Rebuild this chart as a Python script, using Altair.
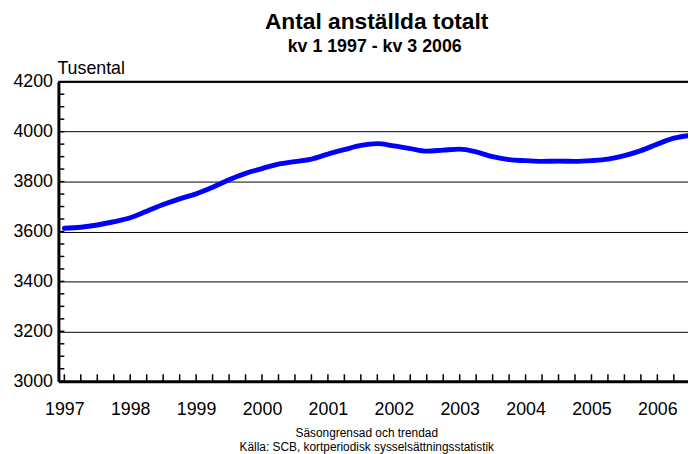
import altair as alt
import pandas as pd

# ---- data ----
quarters = [f"{y} kv{q}" for y in range(1997, 2007) for q in range(1, 5)][:39]
values = [3613, 3617, 3626, 3639,
          3655, 3681, 3708, 3731,
          3751, 3777, 3807, 3833,
          3852, 3870, 3880, 3890,
          3910, 3928, 3945, 3952,
          3943, 3932, 3922, 3926,
          3930, 3919, 3900, 3888,
          3884, 3881, 3882, 3881,
          3884, 3890, 3904, 3924,
          3950, 3974, 3985]
year_labels = list(range(1997, 2007))
y_major = [3000, 3200, 3400, 3600, 3800, 4000, 4200]
y_minor = list(range(3000, 4201, 50))
title_text = ["Antal anställda totalt"]
subtitle_text = ["kv 1 1997 - kv 3 2006"]
unit_text = ["Tusental"]
footer_1 = ["Säsongrensad och trendad"]
footer_2 = ["Källa: SCB, kortperiodisk sysselsättningsstatistik"]

def q_to_t(s):
    y, q = s.split(" kv")
    return int(y) + (int(q) - 1) / 4

df = pd.DataFrame({"kvartal": quarters, "t": [q_to_t(s) for s in quarters], "v": values})
df_minor = pd.DataFrame({"v": y_minor})

FONT = "Liberation Sans, Arial, Helvetica, sans-serif"
W, H = 637, 303

x_scale = alt.Scale(domain=[1996.91, 2006.465], nice=False, zero=False)
y_scale = alt.Scale(domain=[3000, 4200], nice=False, zero=False)

x_axis = alt.Axis(
    values=year_labels, format="d", title=None, ticks=False, grid=False,
    domainColor="black", domainWidth=3, labelFont=FONT, labelFontSize=18,
    labelColor="black", labelPadding=20, labelFlush=False, labelOverlap=False)
y_axis = alt.Axis(
    values=y_major, format="d", title=None, ticks=False, grid=True, gridColor="black",
    gridOpacity=1, gridWidth=1, domainColor="black", domainWidth=3,
    labelFont=FONT, labelFontSize=18, labelColor="black", labelPadding=6,
    labelFlush=False, labelOverlap=False)

line = alt.Chart(df).mark_line(
    color="#0000ff", strokeWidth=5, interpolate="monotone", clip=True,
    strokeCap="round", strokeJoin="round"
).encode(
    x=alt.X("t:Q", scale=x_scale, axis=x_axis),
    y=alt.Y("v:Q", scale=y_scale, axis=y_axis),
)

x_ticks = alt.Chart(df).mark_rule(color="black", strokeWidth=1.5, clip=True).encode(
    x=alt.X("t:Q", scale=x_scale, axis=x_axis),
    y=alt.value(H), y2=alt.value(H - 7),
)

y_ticks = alt.Chart(df_minor).mark_rule(color="black", strokeWidth=1.5).encode(
    y=alt.Y("v:Q", scale=y_scale, axis=y_axis),
    x=alt.value(0), x2=alt.value(6),
)

top_rule = alt.Chart(pd.DataFrame({"v": [y_major[-1]]})).mark_rule(color="black", strokeWidth=2).encode(
    y=alt.Y("v:Q", scale=y_scale, axis=y_axis),
    x=alt.value(0), x2=alt.value(W),
)

def text_layer(vals, x, y, size, bold=False, align="center"):
    return alt.Chart(pd.DataFrame({"s": vals})).mark_text(
        font=FONT, fontSize=size, fontWeight="bold" if bold else "normal",
        align=align, baseline="alphabetic", color="black"
    ).encode(text="s:N", x=alt.value(x), y=alt.value(y))

title = text_layer(title_text, 322, -53, 23, bold=True)
subtitle = text_layer(subtitle_text, 320, -30, 18, bold=True)
unit = text_layer(unit_text, -1, -8, 18, align="left")
foot1 = text_layer(footer_1, 312, H + 56, 12)
foot2 = text_layer(footer_2, 312, H + 71, 12)

chart = alt.layer(
    line, top_rule, x_ticks, y_ticks, title, subtitle, unit, foot1, foot2
).properties(
    width=W, height=H,
    autosize=alt.AutoSizeParams(type="none"),
    padding={"left": 51, "top": 72, "right": 0, "bottom": 71},
).configure_view(stroke=None).configure(background="white")

chart.save("out.html", embed_options={"renderer": "svg", "actions": False})
